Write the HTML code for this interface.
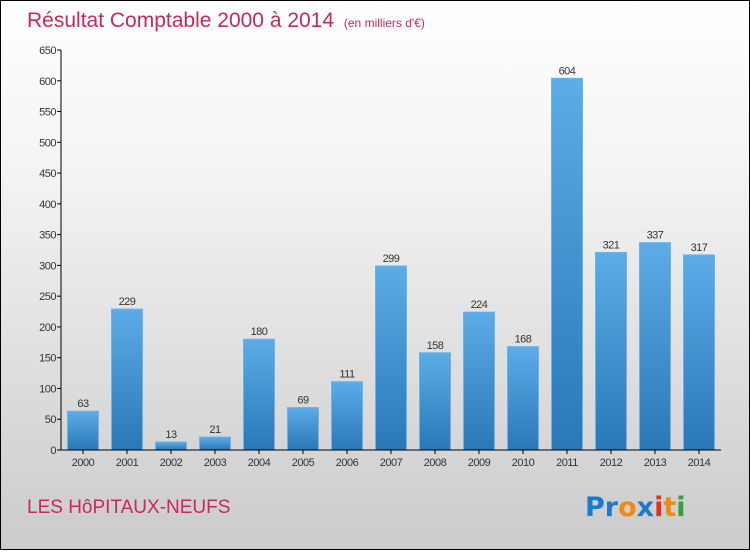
<!DOCTYPE html>
<html><head><meta charset="utf-8"><style>
body{margin:0;width:750px;height:550px;overflow:hidden;font-family:"Liberation Sans",sans-serif}
#wrap{position:absolute;left:0;top:0;width:748px;height:548px;border:1px solid #000;background:linear-gradient(#fff,#f4f4f4 30%,#cbcbcb)}
</style></head><body>
<div id="wrap">
<svg width="748" height="548">
<defs><linearGradient id="bg" x1="0" y1="0" x2="0" y2="1"><stop offset="0" stop-color="#5cace7"/><stop offset="1" stop-color="#2a78b6"/></linearGradient></defs>
<text x="26" y="26" font-size="21" fill="#c8285a">Résultat Comptable 2000 à 2014 <tspan font-size="12" dx="4">(en milliers d'€)</tspan></text>
<g id="yaxis"></g>
<g id="bars"></g>
<g id="xaxis"></g>
<text x="26" y="512" font-size="19" fill="#c8285a">LES HôPITAUX-NEUFS</text>
<text x="584" y="515" font-size="27" font-family="DejaVu Sans, sans-serif" font-weight="bold"><tspan fill="#1a7ad0">Pr</tspan><tspan fill="#f08a10">o</tspan><tspan fill="#1a7ad0">x</tspan><tspan fill="#e03020">i</tspan><tspan fill="#f08a10">t</tspan><tspan fill="#30a040">i</tspan></text>
</svg></div>
<script>
const years=["2000","2001","2002","2003","2004","2005","2006","2007","2008","2009","2010","2011","2012","2013","2014"];
const values=[63,229,13,21,180,69,111,299,158,224,168,604,321,337,317];
const yTicks=[0,50,100,150,200,250,300,350,400,450,500,550,600,650];
const NS="http://www.w3.org/2000/svg";
const X0=60,Y0=449,H=400,YMAX=650,STEP=44,BW=31;
const y=v=>Y0-v/YMAX*H;
const xc=i=>X0+22+i*STEP;
function mk(t,a,p,txt){const e=document.createElementNS(NS,t);for(const k in a)e.setAttribute(k,a[k]);if(txt!==undefined)e.textContent=txt;p.appendChild(e);return e;}
const ya=document.getElementById('yaxis'),xa=document.getElementById('xaxis'),bs=document.getElementById('bars');
mk('line',{x1:X0,y1:y(YMAX),x2:X0,y2:Y0,stroke:'#000'},ya);
yTicks.forEach(t=>{
 const l=mk('line',{x1:X0-4,y1:y(t),x2:X0,y2:y(t),stroke:'#000'},ya);
 
 
 const tx=mk('text',{x:X0-5,y:y(t)+4,'font-size':11,fill:'#333','text-anchor':'end','letter-spacing':'-0.5'},ya,t);
 
 
});
mk('line',{x1:X0,y1:Y0,x2:X0+660,y2:Y0,stroke:'#000'},xa);
years.forEach((yr,i)=>{
 const v=values[i];
 const r=mk('rect',{x:xc(i)-BW/2,y:y(v),width:BW,height:Y0-y(v),fill:'url(#bg)',stroke:'#6ab4ea','stroke-width':1},bs);
 
 
 const vl=mk('text',{x:xc(i),y:y(v)-4,'font-size':11,fill:'#333','text-anchor':'middle','letter-spacing':'-0.5'},bs,v);
 
 
 const tk=mk('line',{x1:xc(i),y1:Y0,x2:xc(i),y2:Y0+4,stroke:'#000'},xa);
 
 
 const xl=mk('text',{x:xc(i),y:Y0+16,'font-size':11,fill:'#333','text-anchor':'middle','letter-spacing':'-0.5'},xa,yr);
 
 
});
</script>
</body></html>
